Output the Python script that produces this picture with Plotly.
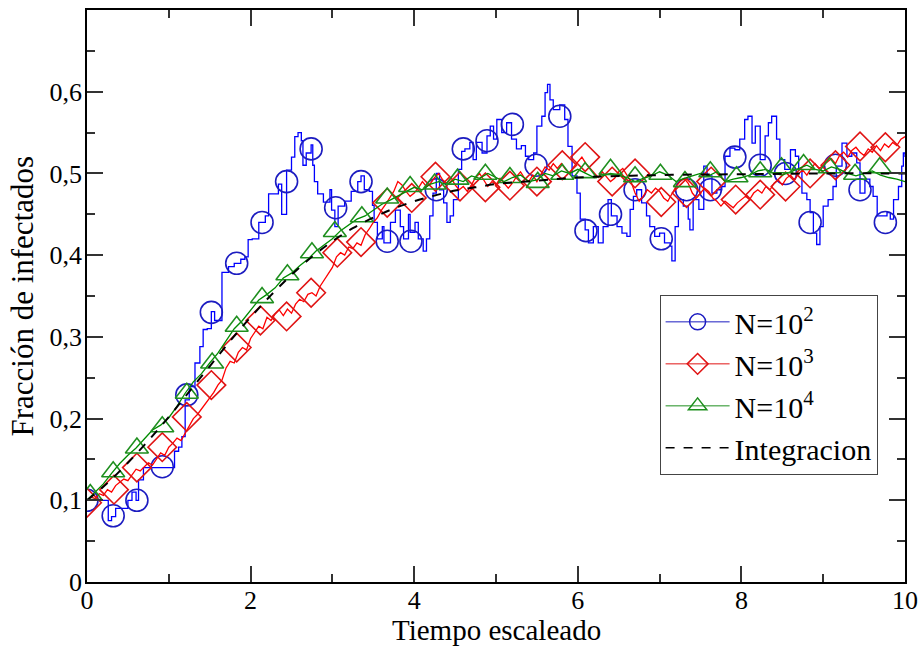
import numpy as np
import plotly.graph_objects as go

# ---------------- data ----------------
# N=10^2 stochastic trajectory (staircase)
blue_t = [0.00, 0.10, 0.22, 0.26, 0.30, 0.35, 0.46, 0.50, 0.55, 0.60, 0.63, 0.69, 0.80, 0.92,
          1.03, 1.07, 1.12, 1.16, 1.20, 1.25, 1.32, 1.38, 1.42, 1.47, 1.52, 1.56, 1.65, 1.73,
          1.80, 1.88, 1.93, 1.97, 2.02, 2.10, 2.18, 2.22, 2.30, 2.34, 2.38, 2.44, 2.50, 2.54,
          2.58, 2.62, 2.64, 2.68, 2.74, 2.76, 2.78, 2.82, 2.89, 2.97, 2.99, 3.03, 3.07, 3.15,
          3.23, 3.31, 3.35, 3.39, 3.45, 3.49, 3.51, 3.55, 3.61, 3.63, 3.71, 3.77, 3.83, 3.87,
          3.93, 3.95, 4.01, 4.05, 4.11, 4.15, 4.19, 4.23, 4.27, 4.31, 4.36, 4.40, 4.44, 4.48,
          4.54, 4.58, 4.62, 4.68, 4.72, 4.76, 4.83, 4.89, 4.93, 4.97, 5.01, 5.07, 5.13, 5.19,
          5.25, 5.31, 5.36, 5.40, 5.46, 5.50, 5.56, 5.60, 5.63, 5.66, 5.70, 5.78, 5.84, 5.88,
          5.93, 5.99, 6.03, 6.09, 6.13, 6.19, 6.25, 6.31, 6.37, 6.41, 6.48, 6.54, 6.60, 6.64,
          6.68, 6.72, 6.78, 6.84, 6.88, 6.94, 7.00, 7.06, 7.13, 7.15, 7.19, 7.23, 7.29, 7.35,
          7.37, 7.41, 7.48, 7.54, 7.58, 7.64, 7.70, 7.76, 7.80, 7.86, 7.92, 7.98, 8.04, 8.08,
          8.13, 8.17, 8.23, 8.29, 8.33, 8.37, 8.43, 8.47, 8.53, 8.60, 8.66, 8.70, 8.74, 8.80,
          8.84, 8.88, 8.92, 8.96, 9.00, 9.06, 9.12, 9.16, 9.23, 9.29, 9.35, 9.41, 9.45, 9.51,
          9.57, 9.61, 9.66, 9.72, 9.78, 9.82, 9.86, 9.92, 9.96, 9.98, 10.00]
blue_y = [0.100, 0.100, 0.100, 0.075, 0.080, 0.090, 0.090, 0.100, 0.110, 0.100, 0.125, 0.140, 0.140, 0.140,
          0.140, 0.160, 0.165, 0.178, 0.223, 0.239, 0.268, 0.288, 0.309, 0.310, 0.331, 0.320, 0.379, 0.386,
          0.390, 0.395, 0.398, 0.419, 0.420, 0.440, 0.448, 0.475, 0.475, 0.487, 0.450, 0.504, 0.520, 0.545,
          0.550, 0.540, 0.510, 0.525, 0.535, 0.510, 0.490, 0.475, 0.465, 0.480, 0.455, 0.435, 0.460, 0.466,
          0.478, 0.490, 0.497, 0.480, 0.478, 0.461, 0.440, 0.420, 0.435, 0.415, 0.440, 0.455, 0.435, 0.420,
          0.450, 0.428, 0.440, 0.420, 0.405, 0.420, 0.448, 0.476, 0.500, 0.480, 0.464, 0.440, 0.448, 0.468,
          0.505, 0.527, 0.530, 0.538, 0.517, 0.538, 0.525, 0.546, 0.558, 0.542, 0.566, 0.550, 0.562, 0.542,
          0.530, 0.534, 0.521, 0.517, 0.525, 0.558, 0.570, 0.599, 0.609, 0.590, 0.578, 0.584, 0.566, 0.533,
          0.497, 0.476, 0.444, 0.431, 0.415, 0.435, 0.415, 0.435, 0.468, 0.448, 0.435, 0.427, 0.423, 0.456,
          0.472, 0.480, 0.464, 0.448, 0.435, 0.423, 0.427, 0.415, 0.411, 0.393, 0.435, 0.468, 0.460, 0.444,
          0.431, 0.468, 0.456, 0.509, 0.497, 0.476, 0.480, 0.484, 0.521, 0.531, 0.529, 0.542, 0.566, 0.570,
          0.537, 0.558, 0.517, 0.546, 0.562, 0.570, 0.542, 0.517, 0.505, 0.529, 0.521, 0.505, 0.476, 0.468,
          0.452, 0.427, 0.413, 0.435, 0.460, 0.468, 0.484, 0.509, 0.537, 0.521, 0.525, 0.513, 0.476, 0.493,
          0.484, 0.472, 0.448, 0.448, 0.452, 0.444, 0.468, 0.484, 0.509, 0.525, 0.520]
circ_t = [0.00, 0.32, 0.61, 0.92, 1.22, 1.52, 1.83, 2.14, 2.44, 2.74, 3.04, 3.35, 3.67, 3.96,
          4.27, 4.60, 4.89, 5.20, 5.49, 5.78, 6.10, 6.40, 6.70, 7.02, 7.33, 7.62, 7.92, 8.23,
          8.54, 8.84, 9.15, 9.45, 9.76]
circ_y = [0.100, 0.081, 0.100, 0.141, 0.229, 0.330, 0.390, 0.440, 0.490, 0.530, 0.458, 0.490, 0.417, 0.417,
          0.480, 0.530, 0.540, 0.560, 0.510, 0.570, 0.430, 0.450, 0.480, 0.420, 0.480, 0.480, 0.520, 0.510,
          0.500, 0.440, 0.510, 0.480, 0.440]

# N=10^3 trajectory, sampled every 0.05
red_y = [0.100, 0.104, 0.102, 0.108, 0.106, 0.113, 0.110, 0.118, 0.122, 0.126, 0.124, 0.131, 0.138, 0.136, 0.141, 0.146, 0.143, 0.150, 0.158, 0.155, 0.165,
         0.170, 0.176, 0.173, 0.182, 0.190, 0.200, 0.205, 0.212, 0.218, 0.225, 0.232, 0.241, 0.247, 0.262, 0.270, 0.268, 0.281, 0.287, 0.284, 0.298,
         0.305, 0.313, 0.310, 0.324, 0.320, 0.328, 0.333, 0.326, 0.334, 0.329, 0.340, 0.346, 0.343, 0.352, 0.354, 0.350, 0.362, 0.370, 0.378, 0.385,
         0.398, 0.403, 0.400, 0.410, 0.408, 0.415, 0.412, 0.425, 0.432, 0.440, 0.446, 0.455, 0.462, 0.470, 0.478, 0.490, 0.486, 0.478, 0.472, 0.476,
         0.482, 0.490, 0.484, 0.488, 0.495, 0.500, 0.492, 0.488, 0.495, 0.486, 0.480, 0.484, 0.478, 0.486, 0.495, 0.500, 0.492, 0.484, 0.490, 0.486,
         0.494, 0.488, 0.482, 0.488, 0.496, 0.502, 0.494, 0.490, 0.498, 0.490, 0.500, 0.508, 0.504, 0.512, 0.506, 0.512, 0.505, 0.500, 0.508, 0.514,
         0.520, 0.512, 0.506, 0.500, 0.495, 0.502, 0.496, 0.490, 0.494, 0.502, 0.506, 0.498, 0.490, 0.476, 0.466, 0.472, 0.480, 0.476, 0.482, 0.478,
         0.470, 0.466, 0.476, 0.484, 0.490, 0.494, 0.488, 0.476, 0.470, 0.476, 0.482, 0.478, 0.470, 0.466, 0.460, 0.466, 0.462, 0.458, 0.464, 0.468,
         0.472, 0.468, 0.476, 0.480, 0.476, 0.484, 0.480, 0.488, 0.492, 0.486, 0.494, 0.498, 0.492, 0.500, 0.504, 0.498, 0.506, 0.512, 0.506, 0.510,
         0.514, 0.518, 0.512, 0.522, 0.526, 0.520, 0.528, 0.532, 0.526, 0.522, 0.530, 0.526, 0.534, 0.528, 0.536, 0.532, 0.538, 0.534, 0.542, 0.545]
red_t = [round(i * 0.05, 2) for i in range(len(red_y))]
diam_t = [0.00, 0.33, 0.61, 0.92, 1.22, 1.52, 1.83, 2.12, 2.44, 2.74, 3.06, 3.35, 3.67, 3.97,
          4.26, 4.56, 4.87, 5.17, 5.50, 5.81, 6.09, 6.42, 6.70, 7.02, 7.33, 7.63, 7.93, 8.23,
          8.54, 8.84, 9.15, 9.45, 9.76]
diam_y = [0.097, 0.113, 0.140, 0.165, 0.202, 0.241, 0.287, 0.320, 0.325, 0.354, 0.403, 0.416, 0.464, 0.470,
          0.496, 0.484, 0.483, 0.485, 0.490, 0.510, 0.520, 0.490, 0.500, 0.465, 0.476, 0.490, 0.468, 0.474,
          0.484, 0.500, 0.510, 0.533, 0.532]

# N=10^4 trajectory, sampled every 0.1
green_y = [0.100, 0.110, 0.120, 0.133, 0.145, 0.155, 0.164, 0.175, 0.186, 0.192, 0.201,
           0.215, 0.231, 0.245, 0.255, 0.268, 0.280, 0.295, 0.310, 0.320, 0.332,
           0.345, 0.352, 0.360, 0.372, 0.378, 0.387, 0.395, 0.405, 0.412, 0.420,
           0.430, 0.437, 0.444, 0.448, 0.455, 0.462, 0.467, 0.472, 0.478, 0.483,
           0.480, 0.487, 0.490, 0.486, 0.493, 0.490, 0.497, 0.494, 0.500, 0.495,
           0.490, 0.495, 0.498, 0.490, 0.492, 0.500, 0.497, 0.503, 0.500, 0.505,
           0.500, 0.495, 0.497, 0.500, 0.498, 0.495, 0.490, 0.494, 0.497, 0.502,
           0.498, 0.490, 0.494, 0.497, 0.500, 0.497, 0.502, 0.490, 0.493, 0.495,
           0.498, 0.503, 0.505, 0.500, 0.498, 0.502, 0.506, 0.510, 0.505, 0.503,
           0.508, 0.505, 0.500, 0.497, 0.500, 0.503, 0.498, 0.495, 0.493, 0.490]
green_t = [round(i * 0.1, 1) for i in range(len(green_y))]
tri_t = [0.04, 0.32, 0.61, 0.92, 1.22, 1.53, 1.83, 2.14, 2.45, 2.75, 3.03, 3.36, 3.67, 3.95,
         4.25, 4.53, 4.87, 5.17, 5.51, 5.81, 6.09, 6.40, 6.70, 7.01, 7.31, 7.62, 7.94, 8.23,
         8.49, 8.76, 9.08, 9.39, 9.69]
tri_y = [0.107, 0.135, 0.164, 0.190, 0.231, 0.268, 0.313, 0.348, 0.376, 0.403, 0.429, 0.447, 0.470, 0.484,
         0.487, 0.493, 0.499, 0.495, 0.489, 0.499, 0.501, 0.505, 0.496, 0.499, 0.490, 0.502, 0.496, 0.502,
         0.507, 0.511, 0.507, 0.499, 0.507]

# numerical integration (dashed)
integ_t = [0.0, 0.25, 0.5, 0.75, 1.0, 1.25, 1.5, 1.75, 2.0, 2.25, 2.5, 2.75, 3.0, 3.25, 3.5,
           3.75, 4.0, 4.25, 4.5, 4.75, 5.0, 5.5, 6.0, 7.0, 8.0, 9.0, 10.0]
integ_y = [0.100, 0.121, 0.146, 0.173, 0.202, 0.233, 0.264, 0.295, 0.324, 0.351, 0.376, 0.398, 0.417, 0.433, 0.446,
           0.457, 0.466, 0.473, 0.479, 0.483, 0.487, 0.491, 0.495, 0.498, 0.499, 0.500, 0.500]

y_tickvals = [0.0, 0.1, 0.2, 0.3, 0.4, 0.5, 0.6]
y_ticktext = ["0", "0,1", "0,2", "0,3", "0,4", "0,5", "0,6"]
y_minor = [0.05, 0.15, 0.25, 0.35, 0.45, 0.55, 0.65]
x_tickvals = [0, 2, 4, 6, 8, 10]
x_ticktext = ["0", "2", "4", "6", "8", "10"]
x_minor = [1, 3, 5, 7, 9]

labels = ["N=10<sup>2</sup>", "N=10<sup>3</sup>", "N=10<sup>4</sup>", "Integracion"]
x_title = "Tiempo escaleado"
y_title = "Fracción de infectados"

# ---------------- styling ----------------
FONT = "Liberation Serif"
BLUE_L, BLUE_M = "#0000ff", "#1c1cc0"
RED_L, RED_M = "#ff0000", "#e01414"
GRN_L, GRN_M = "#008b00", "#1f8f1f"

fig = go.Figure()

fig.add_trace(go.Scatter(x=blue_t, y=blue_y, mode="lines", line=dict(color=BLUE_L, width=1.3, shape="hv"),
                         showlegend=False, hoverinfo="skip"))
fig.add_trace(go.Scatter(x=circ_t, y=circ_y, mode="markers",
                         marker=dict(symbol="circle-open", size=22, color=BLUE_M, line=dict(width=1.6)),
                         showlegend=False))
fig.add_trace(go.Scatter(x=red_t, y=red_y, mode="lines", line=dict(color=RED_L, width=1.3),
                         showlegend=False, hoverinfo="skip"))
fig.add_trace(go.Scatter(x=diam_t, y=diam_y, mode="markers",
                         marker=dict(symbol="diamond-open", size=22, color=RED_M, line=dict(width=1.6)),
                         showlegend=False))
fig.add_trace(go.Scatter(x=green_t, y=green_y, mode="lines", line=dict(color=GRN_L, width=1.3),
                         showlegend=False, hoverinfo="skip"))
fig.add_trace(go.Scatter(x=tri_t, y=tri_y, mode="markers",
                         marker=dict(symbol="triangle-up-open", size=20, color=GRN_M, line=dict(width=1.6)),
                         showlegend=False))
fig.add_trace(go.Scatter(x=integ_t, y=integ_y, mode="lines", line=dict(color="black", width=2, dash="dash"),
                         line_shape="spline", showlegend=False))

leg_specs = [
    (labels[0], BLUE_M, "circle-open"),
    (labels[1], RED_M, "diamond-open"),
    (labels[2], GRN_M, "triangle-up-open"),
]
for name, col, sym in leg_specs:
    fig.add_trace(go.Scatter(x=[None], y=[None], mode="lines+markers", name=name,
                             line=dict(color=col, width=1),
                             marker=dict(symbol=sym, size=16, color=col, line=dict(width=1.5))))
fig.add_trace(go.Scatter(x=[None], y=[None], mode="lines", name=labels[3],
                         line=dict(color="black", width=1.5, dash="dash")))

axis_common = dict(
    showline=True, linecolor="black", linewidth=1.5, mirror="ticks",
    ticks="inside", ticklen=16, tickwidth=1.5, tickcolor="#333",
    showgrid=False, zeroline=False, automargin=False,
    tickfont=dict(family=FONT, size=26, color="black"),
)

fig.update_layout(
    width=922, height=648,
    margin=dict(l=87, r=17, t=10, b=66),
    paper_bgcolor="white", plot_bgcolor="white",
    font=dict(family=FONT, color="black"),
    xaxis=dict(range=[0, 10], tickmode="array", tickvals=x_tickvals, ticktext=x_ticktext,
               ticklabelstandoff=-6,
               minor=dict(tickvals=x_minor, ticklen=8, tickwidth=1.5, tickcolor="#333", ticks="inside"),
               **axis_common),
    yaxis=dict(range=[0, 0.7], tickmode="array", tickvals=y_tickvals, ticktext=y_ticktext,
               ticklabelstandoff=-2,
               minor=dict(tickvals=y_minor, ticklen=8, tickwidth=1.5, tickcolor="#333", ticks="inside"),
               **axis_common),
    legend=dict(x=0.70, y=0.502, xanchor="left", yanchor="top",
                bgcolor="white", bordercolor="#444", borderwidth=1,
                font=dict(family=FONT, size=30, color="black"),
                itemwidth=64, tracegroupgap=0),
    showlegend=True,
    annotations=[
        dict(text=x_title, xref="paper", yref="paper", x=0.5, y=-0.1136, xanchor="center", yanchor="bottom",
             showarrow=False, borderpad=0, font=dict(family=FONT, size=29, color="black")),
        dict(text=y_title, xref="paper", yref="paper", x=-0.08, y=0.5, xanchor="center", yanchor="middle",
             textangle=-90, showarrow=False, font=dict(family=FONT, size=31, color="black")),
    ],
)

fig.write_html("out.html")
